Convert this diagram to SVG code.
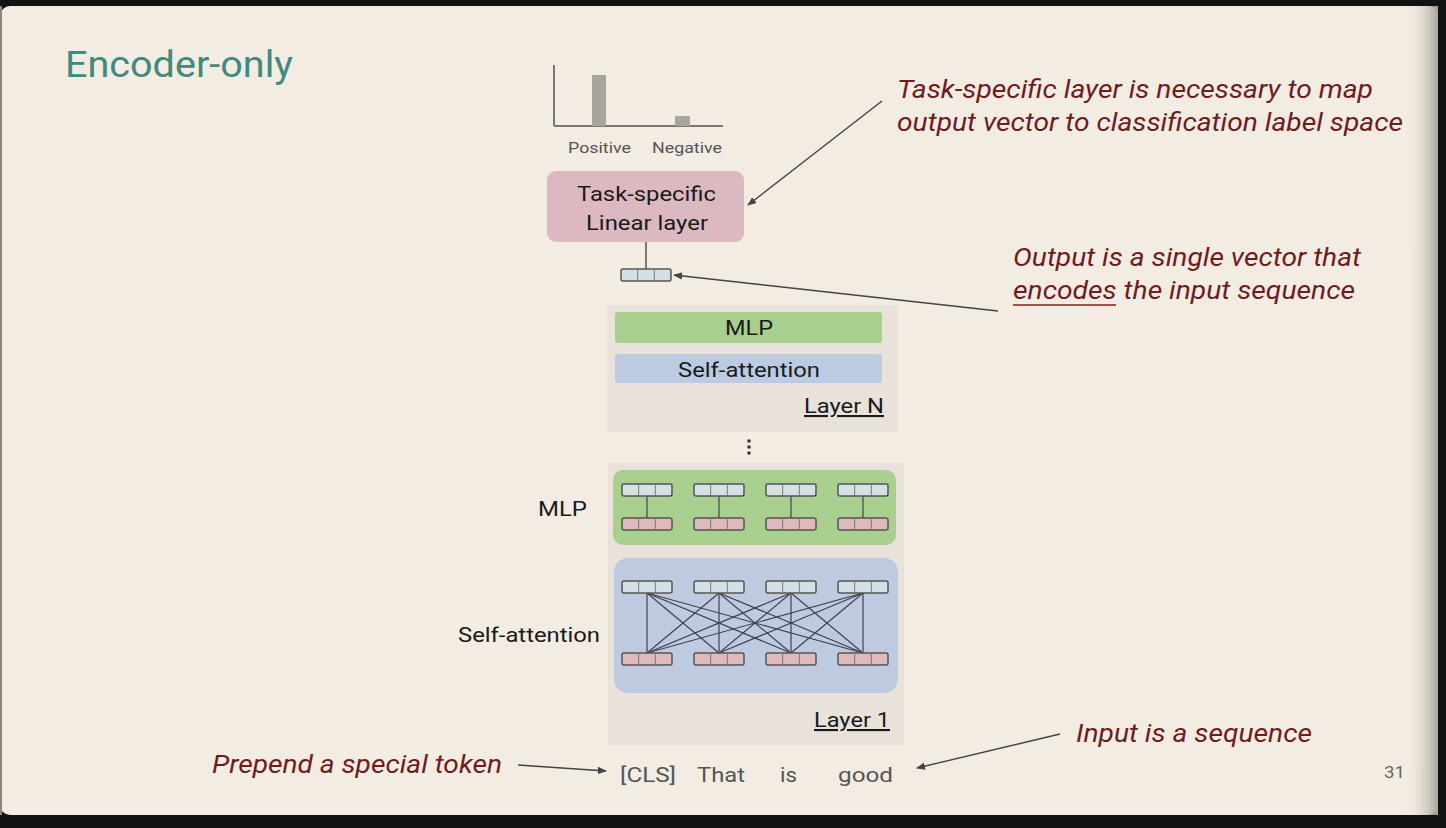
<svg xmlns="http://www.w3.org/2000/svg" width="1446" height="828" viewBox="0 0 1446 828">
<defs>
<style>
.sans{font-family:Roboto,"Liberation Sans",sans-serif;}
.note{font-family:Roboto,"Liberation Sans",sans-serif;font-style:italic;font-size:25px;fill:#6e1c1f;}
.lbl{font-family:Roboto,"Liberation Sans",sans-serif;font-size:21px;fill:#1a1a1a;}
.tok{font-family:Roboto,"Liberation Sans",sans-serif;font-size:21px;fill:#555;}
.conn{stroke:#444;stroke-width:1.4;fill:none;}
.att{stroke:#3c4450;stroke-width:1.2;fill:none;}
.vbox{stroke:#555;stroke-width:1.5;}
</style>
<linearGradient id="shade" x1="0" y1="0" x2="1" y2="0">
<stop offset="0" stop-color="#f2ece3" stop-opacity="0"/>
<stop offset="1" stop-color="#a9a49d"/>
</linearGradient>
<marker id="ah" viewBox="0 0 10 10" refX="9" refY="5" markerWidth="9" markerHeight="9" orient="auto" markerUnits="userSpaceOnUse">
<path d="M0,1 L10,5 L0,9 z" fill="#444"/>
</marker>
<g id="vt">
<rect x="0" y="0" width="50" height="12" rx="2" fill="#d5e0e4" class="vbox"/>
<line x1="16.7" y1="0" x2="16.7" y2="12" stroke="#777" stroke-width="1"/>
<line x1="33.3" y1="0" x2="33.3" y2="12" stroke="#777" stroke-width="1"/>
</g>
<g id="vb">
<rect x="0" y="0" width="50" height="12" rx="2" fill="#e0b9bc" class="vbox"/>
<line x1="16.7" y1="0" x2="16.7" y2="12" stroke="#777" stroke-width="1"/>
<line x1="33.3" y1="0" x2="33.3" y2="12" stroke="#777" stroke-width="1"/>
</g>
</defs>

<rect x="0" y="0" width="1446" height="828" fill="#111"/>
<rect x="0" y="6" width="1438" height="809" rx="10" fill="#f2ece3"/>
<rect x="1405" y="6" width="33" height="809" fill="url(#shade)"/>
<rect x="0" y="6" width="2" height="809" fill="#8a8680"/>

<text x="65" y="77" class="sans" font-size="36" fill="#3f8a80" textLength="228" lengthAdjust="spacingAndGlyphs">Encoder-only</text>

<g id="chart">
<line x1="554" y1="65" x2="554" y2="126" stroke="#777" stroke-width="2"/>
<line x1="554" y1="126" x2="723" y2="126" stroke="#777" stroke-width="2"/>
<rect x="592" y="75" width="14" height="51" fill="#a8a59d"/>
<rect x="675" y="116" width="15" height="10" fill="#a8a59d"/>
<text x="568" y="153" class="sans" font-size="15" fill="#555" textLength="63" lengthAdjust="spacingAndGlyphs">Positive</text>
<text x="652" y="153" class="sans" font-size="15" fill="#555" textLength="70" lengthAdjust="spacingAndGlyphs">Negative</text>
</g>

<g id="task-layer">
<rect x="547" y="171" width="197" height="71" rx="9" fill="#dcb9c0"/>
<text x="577" y="201" class="lbl" textLength="139" lengthAdjust="spacingAndGlyphs">Task-specific</text>
<text x="586" y="230" class="lbl" textLength="122" lengthAdjust="spacingAndGlyphs">Linear layer</text>
</g>

<g id="output-vector">
<use href="#vt" x="621" y="269"/>
</g>

<g id="layer-n">
<rect x="607" y="305" width="291" height="127" fill="#e8e2da"/>
<rect x="615" y="312" width="267" height="31" rx="3" fill="#a9cf8f"/>
<text x="725" y="335" class="lbl" textLength="48" lengthAdjust="spacingAndGlyphs">MLP</text>
<rect x="615" y="354" width="267" height="29" rx="3" fill="#bccae2"/>
<text x="678" y="377" class="lbl" textLength="142" lengthAdjust="spacingAndGlyphs">Self-attention</text>
<text x="804" y="413" class="lbl" text-decoration="underline" textLength="80" lengthAdjust="spacingAndGlyphs">Layer N</text>
</g>

<g id="dots" fill="#333">
<circle cx="749" cy="441" r="1.8"/>
<circle cx="749" cy="447" r="1.8"/>
<circle cx="749" cy="453" r="1.8"/>
</g>

<g id="layer-1">
<rect x="608" y="463" width="296" height="282" fill="#e8e2da"/>
<rect x="613" y="470" width="283" height="75" rx="10" fill="#a9cf8f"/>
<rect x="614" y="558" width="284" height="135" rx="14" fill="#bfc9df"/>
<text x="814" y="727" class="lbl" text-decoration="underline" textLength="76" lengthAdjust="spacingAndGlyphs">Layer 1</text>
</g>

<g id="mlp-vectors">
<g class="att">
<line x1="647" y1="496" x2="647" y2="518"/>
<line x1="719" y1="496" x2="719" y2="518"/>
<line x1="791" y1="496" x2="791" y2="518"/>
<line x1="863" y1="496" x2="863" y2="518"/>
</g>
<use href="#vt" x="622" y="484"/>
<use href="#vt" x="694" y="484"/>
<use href="#vt" x="766" y="484"/>
<use href="#vt" x="838" y="484"/>
<use href="#vb" x="622" y="518"/>
<use href="#vb" x="694" y="518"/>
<use href="#vb" x="766" y="518"/>
<use href="#vb" x="838" y="518"/>
</g>

<g id="attention-vectors">
<g class="att">
<line x1="647" y1="593" x2="647" y2="653"/><line x1="647" y1="593" x2="719" y2="653"/><line x1="647" y1="593" x2="791" y2="653"/><line x1="647" y1="593" x2="863" y2="653"/>
<line x1="719" y1="593" x2="647" y2="653"/><line x1="719" y1="593" x2="719" y2="653"/><line x1="719" y1="593" x2="791" y2="653"/><line x1="719" y1="593" x2="863" y2="653"/>
<line x1="791" y1="593" x2="647" y2="653"/><line x1="791" y1="593" x2="719" y2="653"/><line x1="791" y1="593" x2="791" y2="653"/><line x1="791" y1="593" x2="863" y2="653"/>
<line x1="863" y1="593" x2="647" y2="653"/><line x1="863" y1="593" x2="719" y2="653"/><line x1="863" y1="593" x2="791" y2="653"/><line x1="863" y1="593" x2="863" y2="653"/>
</g>
<use href="#vt" x="622" y="581"/>
<use href="#vt" x="694" y="581"/>
<use href="#vt" x="766" y="581"/>
<use href="#vt" x="838" y="581"/>
<use href="#vb" x="622" y="653"/>
<use href="#vb" x="694" y="653"/>
<use href="#vb" x="766" y="653"/>
<use href="#vb" x="838" y="653"/>
</g>

<text x="538" y="516" class="lbl" textLength="49" lengthAdjust="spacingAndGlyphs">MLP</text>
<text x="458" y="642" class="lbl" textLength="142" lengthAdjust="spacingAndGlyphs">Self-attention</text>

<g id="tokens">
<text x="620" y="782" class="tok" textLength="56" lengthAdjust="spacingAndGlyphs">[CLS]</text>
<text x="697" y="782" class="tok" textLength="48" lengthAdjust="spacingAndGlyphs">That</text>
<text x="780" y="782" class="tok" textLength="17" lengthAdjust="spacingAndGlyphs">is</text>
<text x="838" y="782" class="tok" textLength="55" lengthAdjust="spacingAndGlyphs">good</text>
</g>

<g id="notes">
<text x="897" y="98" class="note" textLength="476" lengthAdjust="spacingAndGlyphs">Task-specific layer is necessary to map</text>
<text x="897" y="131" class="note" textLength="506" lengthAdjust="spacingAndGlyphs">output vector to classification label space</text>
<text x="1013" y="266" class="note" textLength="348" lengthAdjust="spacingAndGlyphs">Output is a single vector that</text>
<text x="1013" y="299" class="note" textLength="342" lengthAdjust="spacingAndGlyphs">encodes the input sequence</text>
<line x1="1013" y1="305" x2="1116" y2="305" stroke="#b04a4a" stroke-width="2"/>
<text x="1076" y="742" class="note" textLength="236" lengthAdjust="spacingAndGlyphs">Input is a sequence</text>
<text x="212" y="773" class="note" textLength="290" lengthAdjust="spacingAndGlyphs">Prepend a special token</text>
</g>

<text x="1384" y="778" class="sans" font-size="16" fill="#666" textLength="21" lengthAdjust="spacingAndGlyphs">31</text>

<g id="connectors">
<line x1="646" y1="242" x2="646" y2="269" stroke="#555" stroke-width="1.5"/>
<line x1="882" y1="101" x2="748" y2="205" class="conn" marker-end="url(#ah)"/>
<line x1="998" y1="311" x2="674" y2="275" class="conn" marker-end="url(#ah)"/>
<line x1="1060" y1="734" x2="917" y2="768" class="conn" marker-end="url(#ah)"/>
<line x1="518" y1="765" x2="606" y2="771" class="conn" marker-end="url(#ah)"/>
</g>
</svg>
